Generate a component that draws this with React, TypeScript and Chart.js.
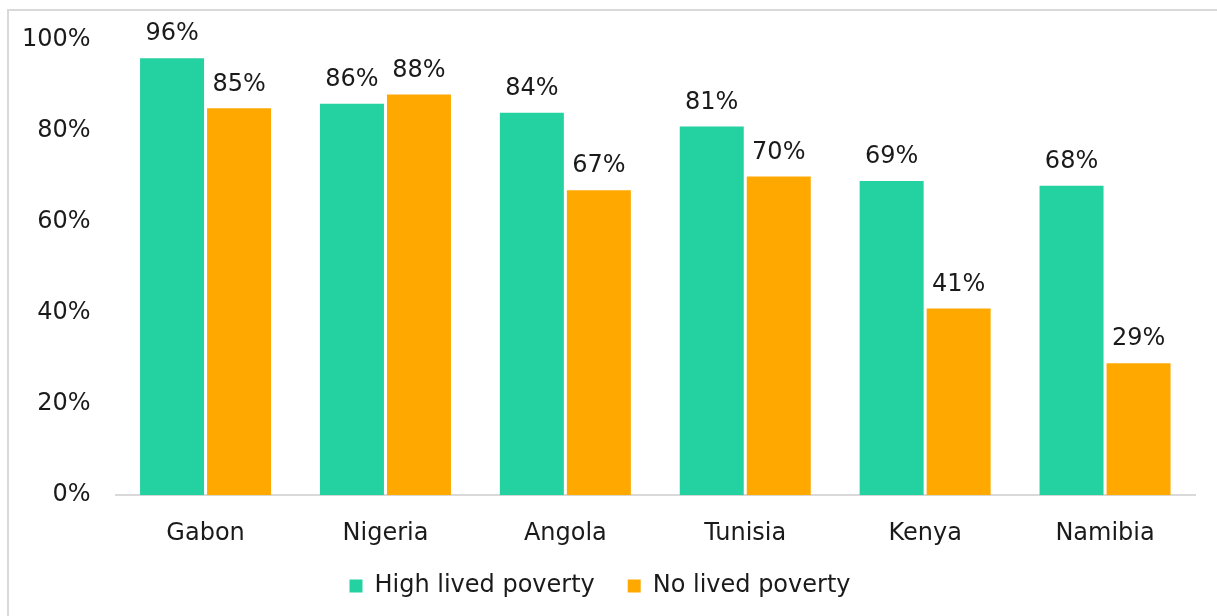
import React, { useEffect, useRef } from "react";
import { Chart, registerables } from "chart.js";

Chart.register(...registerables);

const categories = ["Gabon", "Nigeria", "Angola", "Tunisia", "Kenya", "Namibia"];
const highLivedPoverty = [96, 86, 84, 81, 69, 68];
const noLivedPoverty = [85, 88, 67, 70, 41, 29];
const yTicks = [0, 20, 40, 60, 80, 100];

const FONT = "'DejaVu Sans', sans-serif";
const FONT_SIZE = 24;
const TEXT = "#1a1a1a";

const valueLabels = {
  id: "valueLabels",
  afterDatasetsDraw(chart: any) {
    const ctx = chart.ctx;
    ctx.save();
    ctx.font = `${FONT_SIZE}px ${FONT}`;
    ctx.fillStyle = TEXT;
    ctx.textAlign = "center";
    ctx.textBaseline = "bottom";
    chart.data.datasets.forEach((ds: any, i: number) => {
      const meta = chart.getDatasetMeta(i);
      meta.data.forEach((bar: any, j: number) => {
        ctx.fillText(`${ds.data[j]}%`, bar.x, bar.y - 12);
      });
    });
    ctx.restore();
  },
};

export default function App() {
  const ref = useRef<HTMLCanvasElement>(null);
  useEffect(() => {
    const chart = new Chart(ref.current!, {
      type: "bar",
      data: {
        labels: categories,
        datasets: [
          {
            label: "High lived poverty",
            data: highLivedPoverty,
            backgroundColor: "#24D1A0",
            barPercentage: 0.955,
            categoryPercentage: 0.745,
          },
          {
            label: "No lived poverty",
            data: noLivedPoverty,
            backgroundColor: "#FFA800",
            barPercentage: 0.955,
            categoryPercentage: 0.745,
          },
        ],
      },
      options: {
        responsive: false,
        animation: false,
        layout: { padding: { left: 5, right: 22, top: 40, bottom: 8 } },
        plugins: {
          tooltip: { enabled: false },
          legend: {
            position: "bottom",
            labels: {
              boxWidth: 13,
              boxHeight: 13,
              padding: 10,
              color: TEXT,
              font: { family: FONT, size: FONT_SIZE },
              generateLabels: (chart: any) => {
                const items = Chart.defaults.plugins.legend.labels.generateLabels(chart);
                items.forEach((it: any, i: number) => {
                  if (i < items.length - 1) it.text = it.text + "   ";
                });
                return items;
              },
            },
          },
        },
        scales: {
          x: {
            grid: { display: false },
            border: { color: "#d9d9d9", width: 2 },
            ticks: { color: TEXT, font: { family: FONT, size: FONT_SIZE }, padding: 16 },
          },
          y: {
            min: 0,
            max: 100,
            afterBuildTicks: (axis: any) => {
              axis.ticks = yTicks.map((v) => ({ value: v }));
            },
            grid: { display: false },
            border: { display: false },
            ticks: {
              color: TEXT,
              padding: 17,
              font: { family: FONT, size: FONT_SIZE },
              callback: (v: any) => `${v}%`,
            },
          },
        },
      },
      plugins: [valueLabels],
    });
    return () => chart.destroy();
  }, []);

  return (
    <div style={{ position: "fixed", left: 0, top: 0, width: 1217, height: 616, background: "#fff", overflow: "hidden" }}>
      <div
        style={{
          position: "absolute",
          left: 7,
          top: 9,
          width: 1240,
          height: 640,
          border: "2px solid #d9d9d9",
          boxSizing: "border-box",
        }}
      />
      <canvas ref={ref} width={1217} height={616} style={{ position: "absolute", left: 0, top: 0 }} />
    </div>
  );
}
